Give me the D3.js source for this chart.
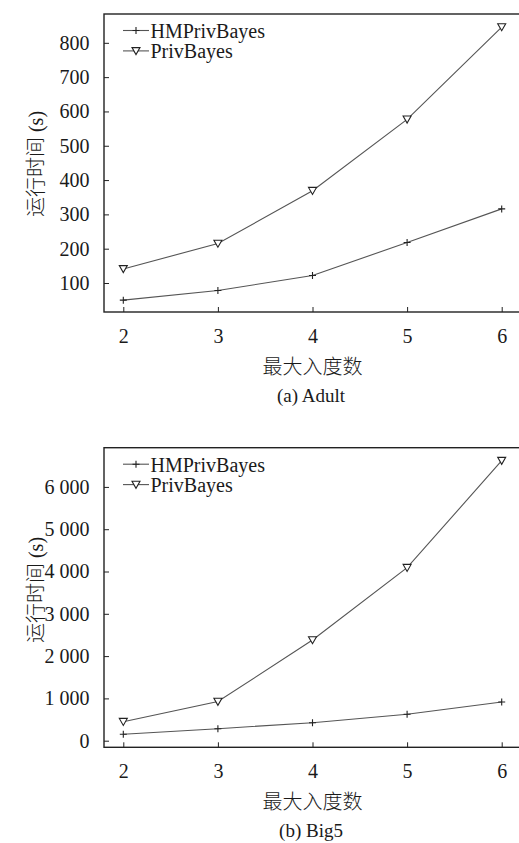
<!DOCTYPE html>
<html>
<head>
<meta charset="utf-8">
<script src="https://cdn.jsdelivr.net/npm/d3@7"></script>
<style>
  body { margin: 0; background: #fff; }
  text { font-family: "Liberation Serif", "Noto Sans CJK SC", serif; fill: #1a1a1a; }
  .cjk { font-weight: 300; }
</style>
</head>
<body>
<div id="chart"></div>
<script>
// values
var degrees = [2, 3, 4, 5, 6];
var seriesNames = ["HMPrivBayes", "PrivBayes"];

var adultHM = [50, 78, 122, 218, 316];
var adultPB = [141, 215, 369, 577, 846];
var adultTicks = [100, 200, 300, 400, 500, 600, 700, 800];

var big5HM = [151, 284, 425, 624, 915];
var big5PB = [449, 925, 2380, 4090, 6620];
var big5Ticks = [0, 1000, 2000, 3000, 4000, 5000, 6000];

var svgWidth = 519;
var svgHeight = 843;

var svg = d3.select("#chart")
  .append("svg")
  .attr("width", svgWidth)
  .attr("height", svgHeight);

var spaced = d3.formatLocale({ decimal: ".", thousands: " ", grouping: [3], currency: ["", ""] }).format(",d");

// one panel = one chart with its own frame, axes and legend
function drawPanel(opt) {
  var left = 104, right = 521;
  var top = opt.top, bottom = opt.bottom;

  var x = d3.scaleLinear()
    .domain([2, 6])
    .range([123.3, 501.7]);

  var y = d3.scaleLinear()
    .domain(opt.yDomain)
    .range([bottom, top]);

  var g = svg.append("g");

  // frame
  g.append("rect")
    .attr("x", left)
    .attr("y", top)
    .attr("width", right - left)
    .attr("height", bottom - top)
    .attr("fill", "none")
    .attr("stroke", "#222")
    .attr("stroke-width", 1.4);

  var leftAxis = d3.axisLeft(y)
    .tickValues(opt.ticks)
    .tickFormat(opt.format)
    .tickSizeInner(-5)
    .tickSizeOuter(0)
    .tickPadding(14.5);

  var bottomAxis = d3.axisBottom(x)
    .tickValues(degrees)
    .tickFormat(d3.format("d"))
    .tickSizeInner(-5)
    .tickSizeOuter(0)
    .tickPadding(16.5);

  var ya = g.append("g")
    .attr("transform", `translate(${left}, 0)`)
    .call(leftAxis);
  var xa = g.append("g")
    .attr("transform", `translate(0, ${bottom})`)
    .call(bottomAxis);

  [ya, xa].forEach(function (a) {
    a.select(".domain").remove();
    a.selectAll("line").attr("stroke", "#222").attr("stroke-width", 1);
    a.selectAll("text")
      .style("font-family", "'Liberation Serif', serif")
      .style("font-size", "20px")
      .attr("fill", "#1a1a1a");
  });

  var line = d3.line()
    .x((d, i) => x(degrees[i]))
    .y(d => y(d));

  // lines
  [opt.hm, opt.pb].forEach(function (vals) {
    g.append("path")
      .datum(vals)
      .attr("d", line)
      .attr("fill", "none")
      .attr("stroke", "#555")
      .attr("stroke-width", 1.1);
  });

  // markers
  function plus(sel, cx, cy) {
    sel.append("path")
      .attr("d", `M${cx - 3.5},${cy}H${cx + 3.5}M${cx},${cy - 3.5}V${cy + 3.5}`)
      .attr("stroke", "#222")
      .attr("stroke-width", 1.1);
  }
  function tri(sel, cx, cy) {
    sel.append("path")
      .attr("d", `M${cx - 4},${cy - 3.3}H${cx + 4}L${cx},${cy + 3.7}Z`)
      .attr("fill", "#fff")
      .attr("stroke", "#222")
      .attr("stroke-width", 1.1);
  }

  opt.hm.forEach((v, i) => plus(g, x(degrees[i]), y(v)));
  opt.pb.forEach((v, i) => tri(g, x(degrees[i]), y(v)));

  // legend
  var markers = [plus, tri];
  seriesNames.forEach(function (name, i) {
    var base = top + 24 + i * 20.4;
    var ly = base - 7.5;
    g.append("line")
      .attr("x1", 123)
      .attr("x2", 149)
      .attr("y1", ly)
      .attr("y2", ly)
      .attr("stroke", "#555")
      .attr("stroke-width", 1.1);
    markers[i](g, 136, ly);
    g.append("text")
      .attr("x", 150.5)
      .attr("y", base)
      .style("font-size", "20px")
      .text(name);
  });

  // axis labels
  g.append("text")
    .attr("class", "cjk")
    .attr("transform", `translate(${43}, ${opt.yLabelY}) rotate(-90)`)
    .attr("text-anchor", "middle")
    .style("font-size", "20px")
    .text("运行时间 (s)");

  g.append("text")
    .attr("class", "cjk")
    .attr("x", 312.5)
    .attr("y", bottom + 62)
    .attr("text-anchor", "middle")
    .style("font-size", "20px")
    .text("最大入度数");

  g.append("text")
    .attr("x", 311)
    .attr("y", bottom + 89.5)
    .attr("text-anchor", "middle")
    .style("font-size", "19px")
    .text(opt.caption);
}

drawPanel({
  top: 14,
  bottom: 312,
  yDomain: [15.5, 884],
  ticks: adultTicks,
  format: d3.format("d"),
  hm: adultHM,
  pb: adultPB,
  yLabelY: 164,
  caption: "(a) Adult"
});

drawPanel({
  top: 447.7,
  bottom: 747.3,
  yDomain: [-156, 6927],
  ticks: big5Ticks,
  format: spaced,
  hm: big5HM,
  pb: big5PB,
  yLabelY: 590,
  caption: "(b) Big5"
});
</script>
</body>
</html>
